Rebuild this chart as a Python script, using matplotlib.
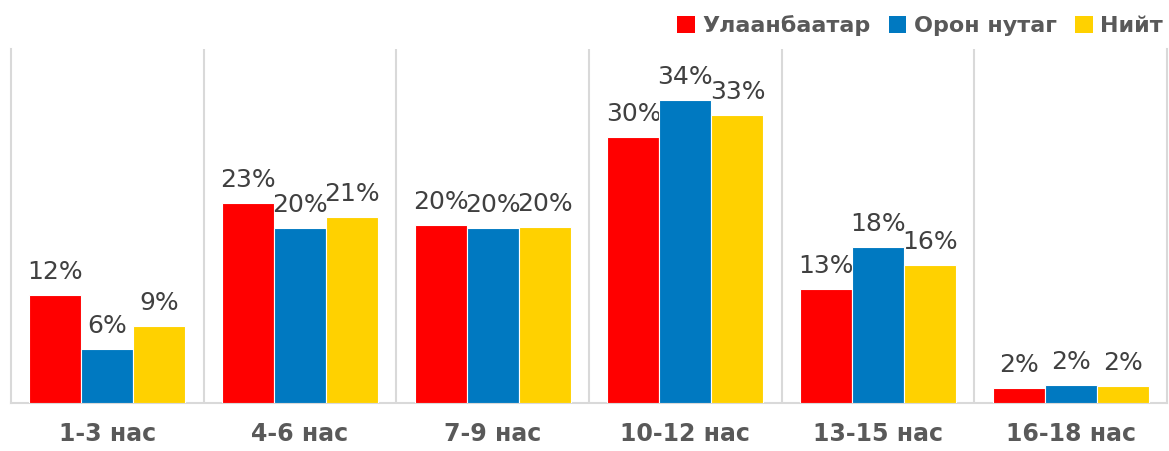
import numpy as np
import matplotlib.pyplot as plt
from matplotlib.patches import Patch

categories = ["1-3 нас", "4-6 нас", "7-9 нас", "10-12 нас", "13-15 нас", "16-18 нас"]
series_names = ["Улаанбаатар", "Орон нутаг", "Нийт"]
ulaanbaatar = [12.2, 22.6, 20.1, 30.1, 12.9, 1.7]
oron_nutag = [6.1, 19.8, 19.8, 34.2, 17.6, 2.0]
niit = [8.7, 21.0, 19.9, 32.6, 15.6, 1.9]

colors = ["#FF0000", "#0079C1", "#FFD100"]
label_color = "#404040"
axis_color = "#595959"
grid_color = "#D9D9D9"

plt.rcParams["font.family"] = ["DejaVu Sans"]

fig = plt.figure(figsize=(11.69, 4.51), dpi=100)
ax = fig.add_axes([0.0094, 0.1064, 0.989, 0.7846])

x = np.arange(len(categories))
width = 0.27
for i, (vals, color) in enumerate(zip([ulaanbaatar, oron_nutag, niit], colors)):
    bars = ax.bar(x + (i - 1) * width, vals, width, color=color,
                  edgecolor="white", linewidth=0.8, zorder=3)
    for bar, v in zip(bars, vals):
        ax.annotate(f"{v:.0f}%", (bar.get_x() + bar.get_width() / 2, v),
                    xytext=(0, 8), textcoords="offset points",
                    ha="center", va="bottom", fontsize=18, color=label_color)

ax.set_xlim(-0.5, len(categories) - 0.5)
ax.set_ylim(0, 40)

# separators between the age groups
for sep in np.arange(0.5, len(categories) - 0.5, 1):
    ax.axvline(sep, color=grid_color, linewidth=1.5, zorder=1)

for side in ["left", "right", "bottom"]:
    ax.spines[side].set_color(grid_color)
    ax.spines[side].set_linewidth(1.5)
ax.spines["top"].set_visible(False)

ax.set_yticks([])
ax.set_xticks(x)
ax.set_xticklabels(categories, fontsize=17, fontweight="bold", color=axis_color)
ax.tick_params(axis="x", length=0, pad=14)

handles = [Patch(facecolor=c, edgecolor="none") for c in colors]
fig.legend(handles, series_names, loc="upper right", bbox_to_anchor=(1.012, 1.01),
           ncol=3, frameon=False, handlelength=0.8, handleheight=0.8,
           handletextpad=0.35, columnspacing=0.8,
           prop={"size": 16, "weight": "bold"}, labelcolor=axis_color)

fig.savefig("out.png", dpi=100)
